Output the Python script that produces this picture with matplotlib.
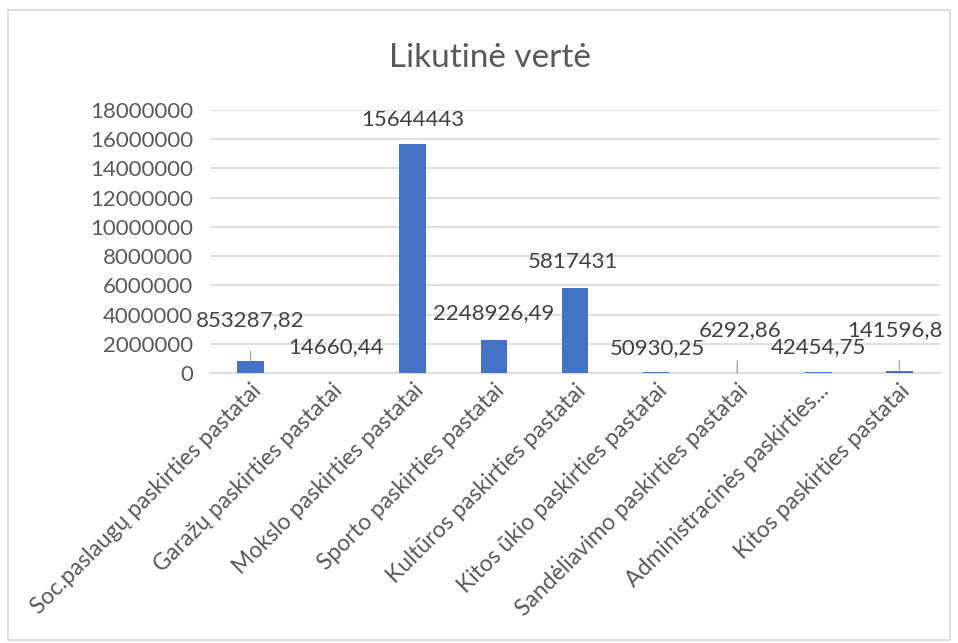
import matplotlib
matplotlib.use("Agg")
import matplotlib.pyplot as plt
from matplotlib.patches import Rectangle

plt.rcParams['font.family'] = ['Lato', 'DejaVu Sans']

categories = [
    "Soc.paslaugų paskirties pastatai",
    "Garažų paskirties pastatai",
    "Mokslo paskirties pastatai",
    "Sporto paskirties pastatai",
    "Kultūros paskirties pastatai",
    "Kitos ūkio paskirties pastatai",
    "Sandėliavimo paskirties pastatai",
    "Administracinės paskirties...",
    "Kitos paskirties pastatai",
]
values = [853287.82, 14660.44, 15644443, 2248926.49, 5817431,
          50930.25, 6292.86, 42454.75, 141596.8]
value_labels = ["853287,82", "14660,44", "15644443", "2248926,49", "5817431",
                "50930,25", "6292,86", "42454,75", "141596,8"]
yticks = list(range(0, 18000001, 2000000))

# label offsets in pixels (dx, dy) and whether a leader line is drawn
offsets = [(0, 40), (4, 26), (0, 24), (0, 27), (-2, 26), (1, 24), (3, 43), (0, 25), (-4, 41)]
leaders = [True, False, False, False, False, False, True, False, True]

fig = plt.figure(figsize=(9.58, 6.43), dpi=100)
fig.patches.append(Rectangle((8/958, 3/643), 942/958, 630/643, transform=fig.transFigure,
                             fill=False, edgecolor="#d9d9d9", linewidth=1.2))
ax = fig.add_axes([210/958, 1 - 373/643, 730/958, 263/643])

x = list(range(len(categories)))
ax.bar(x, values, width=0.33, color="#4472C4", zorder=3)

ax.set_ylim(0, 18000000)
ax.set_xlim(-0.5, len(categories) - 0.5)
ax.set_yticks(yticks)
ax.set_yticklabels([str(v) for v in yticks], fontsize=16, color="#595959")
ax.yaxis.grid(True, color="#d9d9d9", linewidth=1.2, zorder=0)
ax.tick_params(axis='y', length=0, pad=12)
ax.tick_params(axis='x', length=0, pad=5)
for s in ["top", "right", "left"]:
    ax.spines[s].set_visible(False)
ax.spines["bottom"].set_color("#d9d9d9")
ax.spines["bottom"].set_linewidth(1.2)

ax.set_xticks(x)
ax.set_xticklabels(categories, rotation=45, ha="right", rotation_mode="anchor",
                   fontsize=16.5, color="#595959")

for i, (v, lab) in enumerate(zip(values, value_labels)):
    dx, dy = offsets[i]
    if leaders[i]:
        ax.annotate(lab, xy=(i, v), xytext=(dx, dy), textcoords="offset pixels",
                    ha="center", va="center", fontsize=16, color="#404040",
                    arrowprops=dict(arrowstyle="-", color="#a6a6a6", lw=1,
                                    shrinkA=13, shrinkB=0, relpos=(0.5 - dx/100, 0.5)),
                    zorder=5)
    else:
        ax.annotate(lab, xy=(i, v), xytext=(dx, dy), textcoords="offset pixels",
                    ha="center", va="center", fontsize=16, color="#404040", zorder=5)

fig.text(490/958, 1 - 58/643, "Likutinė vertė", ha="center", va="center",
         fontsize=24, color="#595959")

fig.savefig("out.png", dpi=100, facecolor="white")
